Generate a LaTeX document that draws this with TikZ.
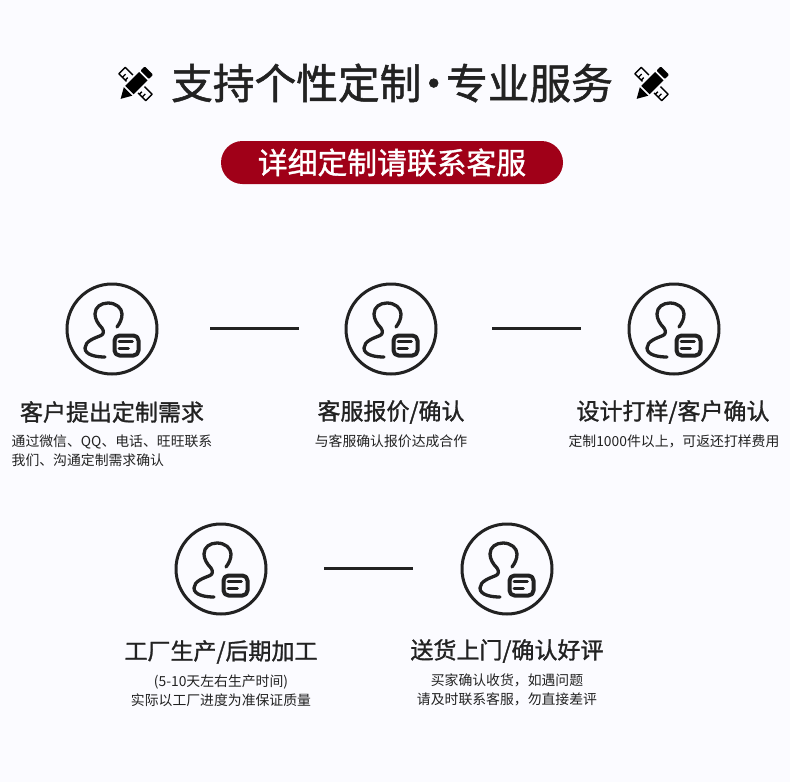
\documentclass[tikz,border=0pt]{standalone}
\usepackage{fontspec}
\usepackage{xcolor}
\setmainfont{Noto Sans CJK SC}
\newfontfamily\cjkmed[FakeBold=1.2]{Noto Sans CJK SC}
\definecolor{pagebg}{HTML}{FBFBFF}
\definecolor{inkdark}{HTML}{222222}
\definecolor{pillred}{HTML}{A00018}
\usetikzlibrary{positioning}

\begin{document}
\begin{tikzpicture}[
          x=1pt, y=-1pt,
          every node/.style={inner sep=0pt, text=inkdark},
          ring/.style={draw=inkdark, line width=3pt, circle, minimum size=90pt},
          link/.style={draw=inkdark, line width=3pt},
          stroke/.style={draw=inkdark, line width=3.3pt, line cap=round, line join=round},
          title/.style={font=\cjkmed\fontsize{41.7pt}{44pt}\selectfont},
          heading/.style={font=\cjkmed\fontsize{23pt}{26pt}\selectfont},
          detail/.style={font=\fontsize{13.85pt}{19pt}\selectfont, align=center},
          pill/.style={fill=pillred, rounded corners=21.5pt, minimum width=342pt, minimum height=43pt,
                       text=white, font=\cjkmed\fontsize{29.8pt}{32pt}\selectfont},
          person/.pic={
            \draw[stroke] (-7,28) .. controls (-16,28) and (-27,26) .. (-27,19)
              .. controls (-27,12) and (-17,9) .. (-11,6.5)
              .. controls (-8,5) and (-8,2) .. (-10,-1)
              .. controls (-14,-5) and (-17,-10) .. (-17,-15)
              .. controls (-17,-22) and (-11,-26) .. (-4,-26)
              .. controls (4,-26) and (10,-21) .. (10,-15)
              .. controls (10,-10) and (8,-6) .. (5,-2);
            \draw[stroke, line width=4pt, rounded corners=5pt] (2.5,6.5) rectangle (26.5,26.5);
            \draw[stroke, line width=2.6pt] (7,12.7) -- (20.5,12.7);
            \draw[stroke, line width=2.6pt] (7,19.3) -- (16.5,19.3);
          },
          pencil/.pic={
            \begin{scope}[rotate=45]
              % ruler under the pen
              \draw[black, line width=1.5pt, line join=round] (-4.5,-19) rectangle (4.5,19);
              \draw[black, line width=1.3pt] (-4.5,-14) -- (0,-14) (-4.5,-10) -- (-1,-10)
                (-4.5,10) -- (-1,10) (-4.5,14) -- (0,14);
              \fill[pagebg] (-8,-8) rectangle (8,8);
              % pen
              \fill[black] (-21,0) -- (-10.5,-6) -- (-10.5,6) -- cycle;
              \fill[black] (-8.5,-6) rectangle (11,6);
              \fill[black, rounded corners=1pt] (13,-6) rectangle (19,6);
            \end{scope}
          }
        ]
          \fill[pagebg] (0,0) rectangle (790,782);

          \node[title] (headline) at (392,83) {支持个性定制\hspace{-8.5pt}·\hspace{-8.5pt}专业服务};
          \pic at (135.5,84) {pencil};
          \pic at (651.5,84) {pencil};
          \node[pill] (banner) at (392,162.5) {详细定制请联系客服};

          % first row
          \node[ring] (quote1) at (112,329) {};
          \node[ring] (quote2) at (391,329) {};
          \node[ring] (quote3) at (674,329) {};
          \pic at (quote1) {person};
          \pic at (quote2) {person};
          \pic at (quote3) {person};
          \draw[link, shorten <=98pt, shorten >=92pt] ([yshift=1pt]quote1.center) -- ([yshift=1pt]quote2.center);
          \draw[link, shorten <=101pt, shorten >=93pt] ([yshift=1pt]quote2.center) -- ([yshift=1pt]quote3.center);

          \node[heading] (head1) at (112,412) {客户提出定制需求};
          \node[heading] (head2) at (391,412) {客服报价/确认};
          \node[heading] (head3) at (673,412) {设计打样/客户确认};
          \node[detail, align=left] (text1) at (112,451) {通过微信、QQ、电话、旺旺联系\\我们、沟通定制需求确认};
          \node[detail] (text2) at (391,441) {与客服确认报价达成合作};
          \node[detail] (text3) at (674,441) {定制1000件以上，可返还打样费用};

          % second row
          \node[ring] (make4) at (221,569) {};
          \node[ring] (make5) at (507,569) {};
          \pic at (make4) {person};
          \pic at (make5) {person};
          \draw[link, shorten <=103pt, shorten >=94pt] ([yshift=1pt]make4.center) -- ([yshift=1pt]make5.center);

          \node[heading] (head4) at (221,652) {工厂生产/后期加工};
          \node[heading] (head5) at (507,651) {送货上门/确认好评};
          \node[detail] (text4) at (221,691) {(5-10天左右生产时间)\\实际以工厂进度为准保证质量};
          \node[detail] (text5) at (507,690) {买家确认收货，如遇问题\\请及时联系客服，勿直接差评};
        \end{tikzpicture}
\end{document}
